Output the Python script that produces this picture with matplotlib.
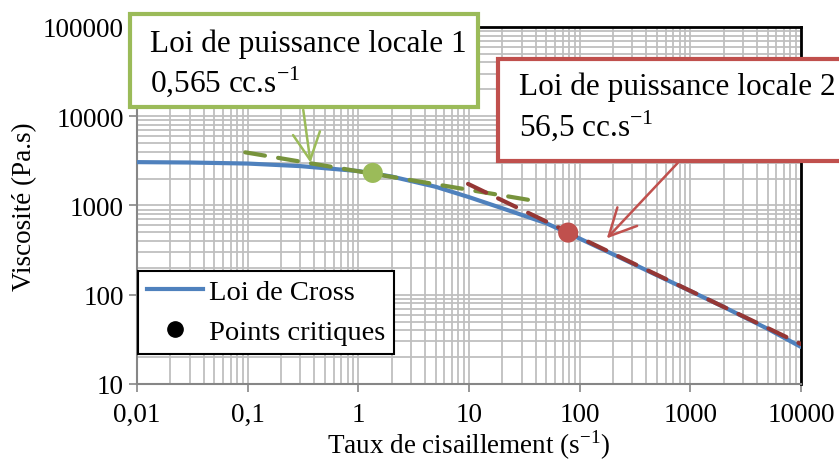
import matplotlib
matplotlib.use("Agg")
import matplotlib.pyplot as plt
from matplotlib.lines import Line2D
from matplotlib.patches import Rectangle

# Données
cross_x = [0.01, 0.03, 0.1, 0.3, 1, 2, 5, 10, 20, 50, 100, 200, 500, 1000, 2000, 5000, 10000]
cross_y = [3060, 3030, 2950, 2760, 2430, 2110, 1620, 1240, 930, 632, 426, 284, 165, 110, 73, 41.5, 26]

pl1_x = [0.095, 40.8]
pl1_y = [3940, 1117]
pl2_x = [9.8, 10000]
pl2_y = [1745, 28]

crit_x = [1.35, 78.7]
crit_y = [2318, 497]
crit_colors = ["#9BBB59", "#C0504D"]

x_ticks = [0.01, 0.1, 1, 10, 100, 1000, 10000]
x_labels = ["0,01", "0,1", "1", "10", "100", "1000", "10000"]
y_ticks = [10, 100, 1000, 10000, 100000]
y_labels = ["10", "100", "1000", "10000", "100000"]

plt.rcParams["font.family"] = ["Liberation Serif", "DejaVu Serif"]
plt.rcParams["mathtext.fontset"] = "custom"
plt.rcParams["mathtext.rm"] = "Liberation Serif"
plt.rcParams["font.size"] = 19.5

fig = plt.figure(figsize=(8.39, 4.64), dpi=100)
ax = fig.add_axes([0.1633, 0.1703, 0.7914, 0.7694])
ax.set_xscale("log")
ax.set_yscale("log")
ax.set_xlim(0.01, 10000)
ax.set_ylim(10, 100000)

# grille majeure et mineure
ax.grid(True, which="both", color="#BFBFBF", lw=1.3)
ax.set_axisbelow(True)

ax.plot(cross_x, cross_y, color="#4F81BD", lw=3, solid_capstyle="round", zorder=3)
ax.plot(pl1_x, pl1_y, color="#77933C", lw=3, dashes=(4.8, 3.2), dash_capstyle="round", zorder=4)
ax.plot(pl2_x, pl2_y, color="#953735", lw=3, dashes=(4.8, 3.2), dash_capstyle="round", zorder=4)
ax.scatter(crit_x, crit_y, s=210, c=crit_colors, zorder=5, linewidths=0)

ax.set_xticks(x_ticks)
ax.set_xticklabels(x_labels)
ax.set_yticks(y_ticks)
ax.set_yticklabels(y_labels)
ax.tick_params(which="major", direction="out", length=6, color="#868686", width=1.2)
ax.tick_params(which="minor", length=0)
ax.tick_params(axis="x", pad=7)

for side in ["left", "bottom"]:
    ax.spines[side].set_color("#868686")
    ax.spines[side].set_linewidth(1.5)
for side in ["top", "right"]:
    ax.spines[side].set_color("black")
    ax.spines[side].set_linewidth(2)

ax.set_xlabel("Taux de cisaillement (s$^{\\mathrm{-1}}$)", labelpad=0)
ax.set_ylabel("Viscosité (Pa.s)", labelpad=4)

handles = [
    Line2D([], [], color="#4F81BD", lw=3),
    Line2D([], [], color="black", marker="o", ls="", markersize=11),
]
leg = ax.legend(handles, ["Loi de Cross", "Points critiques"], loc="lower left",
                bbox_to_anchor=(0.0015, 0.084), borderaxespad=0, fancybox=False,
                framealpha=1, edgecolor="black", handlelength=2.0, handletextpad=0.2,
                borderpad=0.3, labelspacing=0.5, fontsize=20.5)
leg.get_frame().set_linewidth(1.5)
leg.set_zorder(10)

# boîtes d'annotation
fig.patches.append(Rectangle((0.155, 0.767), 0.415, 0.201, transform=fig.transFigure,
                             facecolor="white", edgecolor="#9BBB59", lw=3, zorder=20))
fig.patches.append(Rectangle((0.5936, 0.651), 0.42, 0.22, transform=fig.transFigure,
                             facecolor="white", edgecolor="#C0504D", lw=3, zorder=20))

fig.text(0.179, 0.862, "Loi de puissance locale 1\n0,565 cc.s$^{\\mathrm{-1}}$",
         ha="left", va="center", linespacing=1.2, fontsize=22.5, zorder=21)
fig.text(0.619, 0.768, "Loi de puissance locale 2\n56,5 cc.s$^{\\mathrm{-1}}$",
         ha="left", va="center", linespacing=1.2, fontsize=22.5, zorder=21)

ax.annotate("", xy=(0.373, 2800), xycoords="data", xytext=(0.361, 0.767),
            textcoords="figure fraction",
            arrowprops=dict(arrowstyle="->,head_length=1.0,head_width=0.5",
                            color="#9BBB59", lw=1.8), zorder=22)
ax.annotate("", xy=(169, 406), xycoords="data", xytext=(0.810, 0.651),
            textcoords="figure fraction",
            arrowprops=dict(arrowstyle="->,head_length=1.0,head_width=0.5",
                            color="#C0504D", lw=1.8), zorder=22)

fig.savefig("out.png", dpi=100)
